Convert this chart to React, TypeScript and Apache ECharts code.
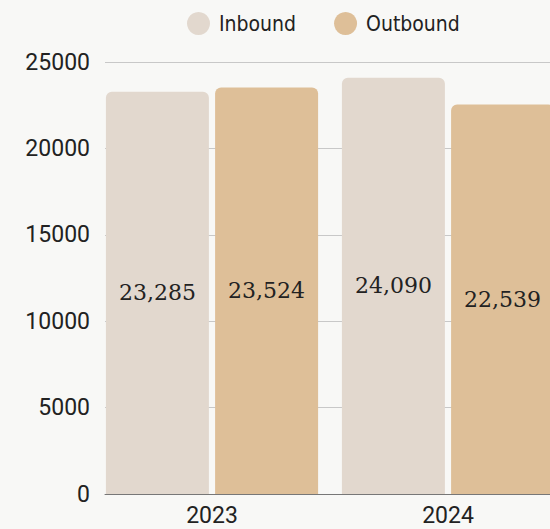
import React, { useEffect, useRef } from "react";
import * as echarts from "echarts";

const categories = ["2023", "2024"];
const inbound = [23285, 24090];
const outbound = [23524, 22539];
const seriesNames = ["Inbound", "Outbound"];
const yTicks = { min: 0, max: 25000, interval: 5000 };

export default function App() {
  const ref = useRef<HTMLDivElement>(null);
  useEffect(() => {
    if (!ref.current) return;
    const chart = echarts.init(ref.current, undefined, { renderer: "svg" });
    const labelStyle = {
      show: true,
      position: "inside" as const,
      fontFamily: "DejaVu Serif",
      fontSize: 22,
      color: "#222",
      formatter: (p: any) => Number(p.value).toLocaleString("en-US"),
    };
    chart.setOption({
      animation: false,
      backgroundColor: "#f8f8f6",
      legend: {
        data: seriesNames,
        left: 182,
        top: 7,
        icon: "circle",
        itemWidth: 23,
        itemHeight: 23,
        itemGap: 38,
        itemStyle: { borderWidth: 0 },
        textStyle: {
          fontFamily: "'Liberation Sans Narrow', 'DejaVu Sans Condensed', sans-serif",
          fontSize: 21,
          color: "#222",
          padding: [0, 0, 0, 4],
        },
      },
      grid: [
        { left: 105, right: 34, top: 62, bottom: 35 },
        { left: 94, right: 34, top: 62, bottom: 35 },
      ],
      xAxis: [
        {
          type: "category",
          gridIndex: 0,
          data: categories,
          axisLine: { show: true, lineStyle: { color: "#777", width: 1 } },
          axisTick: { show: false },
          axisLabel: { show: false },
        },
        {
          type: "category",
          gridIndex: 1,
          data: categories,
          axisLine: { show: false },
          axisTick: { show: false },
          axisLabel: {
            fontFamily: "Roboto",
            fontSize: 23,
            color: "#222",
            margin: 10,
          },
        },
      ],
      yAxis: [
        {
          type: "value",
          gridIndex: 0,
          ...yTicks,
          axisLine: { show: false },
          axisTick: { show: false },
          axisLabel: {
            fontFamily: "Roboto",
            fontSize: 23,
            color: "#222",
            margin: 15,
            formatter: (v: number) => String(v),
          },
          splitLine: { lineStyle: { color: "#c8c8c8", width: 1 } },
        },
        {
          type: "value",
          gridIndex: 1,
          ...yTicks,
          show: false,
          splitLine: { show: false },
        },
      ],
      series: [
        {
          name: seriesNames[0],
          type: "bar",
          xAxisIndex: 1,
          yAxisIndex: 1,
          data: inbound,
          barWidth: 103,
          barGap: "6%",
          itemStyle: { color: "#e2d8ce", borderRadius: [6, 6, 0, 0] },
          label: labelStyle,
        },
        {
          name: seriesNames[1],
          type: "bar",
          xAxisIndex: 1,
          yAxisIndex: 1,
          data: outbound,
          barWidth: 103,
          barGap: "6%",
          itemStyle: { color: "#debf98", borderRadius: [6, 6, 0, 0] },
          label: labelStyle,
        },
      ],
    });
    return () => chart.dispose();
  }, []);
  return (
    <div style={{ position: "fixed", left: 0, top: 0, width: 550, height: 529, overflow: "hidden" }}>
      <div ref={ref} style={{ width: 600, height: 529 }} />
    </div>
  );
}
